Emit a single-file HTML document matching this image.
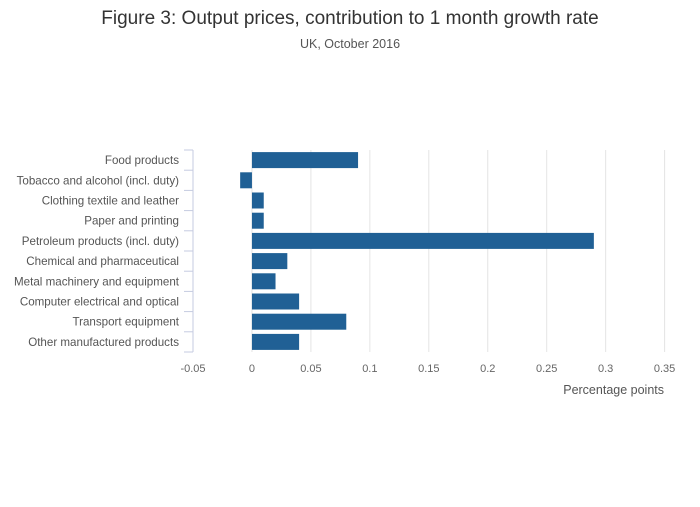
<!DOCTYPE html>
<html><head><meta charset="utf-8"><style>
body{margin:0;background:#fff;font-family:"Liberation Sans",sans-serif}
svg text{font-family:"Liberation Sans",sans-serif}
</style></head><body>
<svg id="c" width="700" height="502" xmlns="http://www.w3.org/2000/svg">
<text x="350" y="24" text-anchor="middle" font-size="19" fill="#333">Figure 3: Output prices, contribution to 1 month growth rate</text>
<text x="350" y="48" text-anchor="middle" font-size="12.5" fill="#555">UK, October 2016</text>
<g id="grid"></g><g id="bars"></g><g id="yax"></g><g id="xax"></g>
<text x="664" y="394" text-anchor="end" font-size="12.5" fill="#555">Percentage points</text>
</svg>
<script>
const categories=["Food products","Tobacco and alcohol (incl. duty)","Clothing textile and leather","Paper and printing","Petroleum products (incl. duty)","Chemical and pharmaceutical","Metal machinery and equipment","Computer electrical and optical","Transport equipment","Other manufactured products"];
const values=[0.09,-0.01,0.01,0.01,0.29,0.03,0.02,0.04,0.08,0.04];
const tickValues=[-0.05,0,0.05,0.1,0.15,0.2,0.25,0.3,0.35];
const tickLabels=["-0.05","0","0.05","0.1","0.15","0.2","0.25","0.3","0.35"];
const NS="http://www.w3.org/2000/svg";
const x0=193,x1=664.6,vmin=-0.05,vmax=0.35,plotTop=150,band=20.2;
const X=v=>x0+(v-vmin)/(vmax-vmin)*(x1-x0);
const Y=i=>plotTop+i*band;
function mk(t,a,p){const e=document.createElementNS(NS,t);for(const k in a)e.setAttribute(k,a[k]);p.appendChild(e);return e;}
const g=document.getElementById('grid'),b=document.getElementById('bars'),ya=document.getElementById('yax'),xa=document.getElementById('xax');
const plotBottom=Y(categories.length);
tickValues.forEach((v,i)=>{
  if(i>0){const l=mk('line',{x1:X(v),x2:X(v),y1:plotTop,y2:plotBottom,stroke:'#e4e4e4','stroke-width':1},g);
  
  }
  const t=mk('text',{x:X(v),y:372,'text-anchor':'middle','font-size':11,fill:'#666'},xa);
  t.textContent=tickLabels[i];
  
  
});
const ax=mk('line',{x1:x0,x2:x0,y1:plotTop,y2:plotBottom,stroke:'#c5cbe0','stroke-width':1},ya);


for(let i=0;i<=categories.length;i++){
  const tk=mk('line',{x1:x0-9,x2:x0,y1:Y(i),y2:Y(i),stroke:'#c5cbe0','stroke-width':1},ya);
  
  
}
categories.forEach((c,i)=>{
  const t=mk('text',{x:179,y:Y(i)+band/2+4,'text-anchor':'end','font-size':11.6,fill:'#555'},ya);
  t.textContent=c;
  
  
  const v=values[i];
  const r=mk('rect',{x:Math.min(X(0),X(v)),y:Y(i)+2.1,width:Math.abs(X(v)-X(0)),height:16,fill:'#206095'},b);
  
  
});
</script>
</body></html>
